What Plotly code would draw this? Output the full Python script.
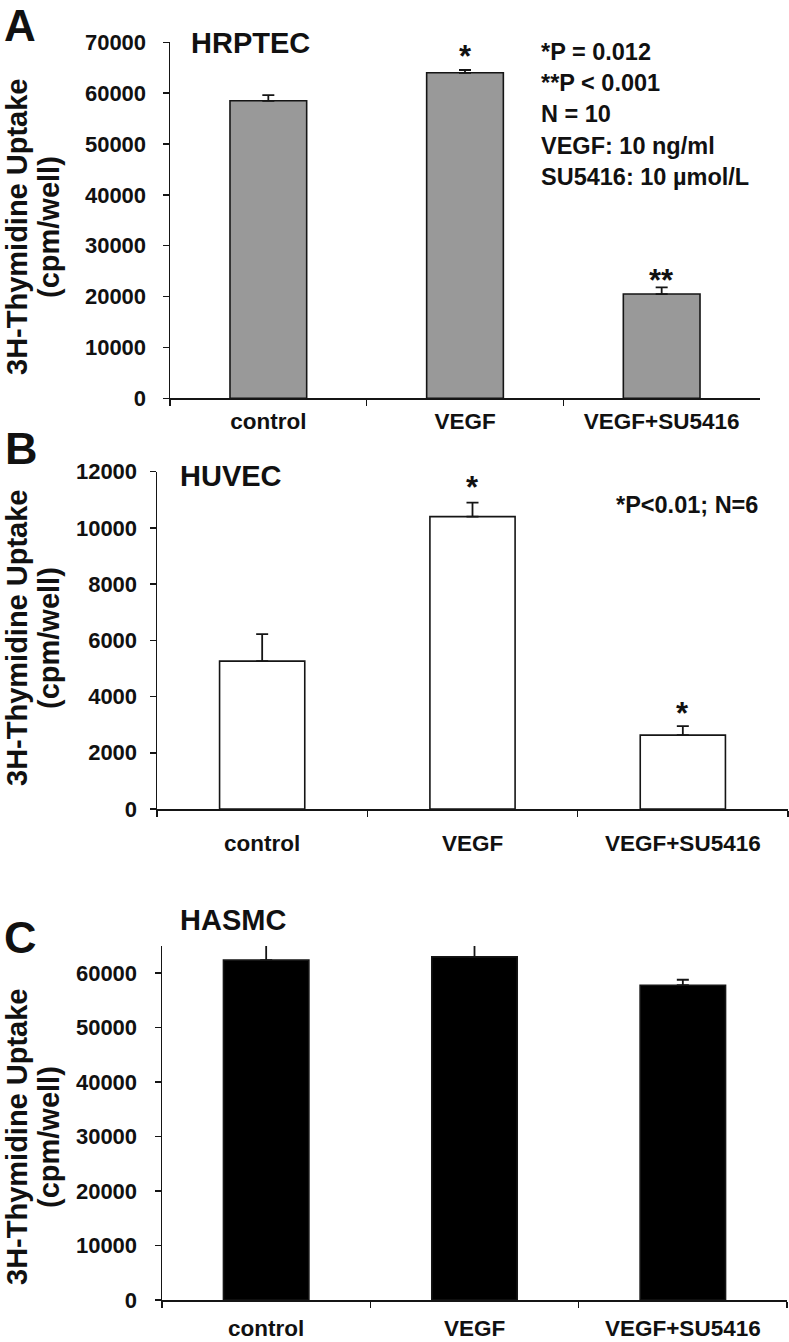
import plotly.graph_objects as go

W, H = 789, 1342
FONT = "Liberation Sans, Arial, sans-serif"

# ---- data ----
categories = ["control", "VEGF", "VEGF+SU5416"]

hrptec_values = [58500, 64000, 20500]
hrptec_errors = [1100, 550, 1300]

huvec_values = [5260, 10400, 2630]
huvec_errors = [960, 500, 320]

hasmc_values = [62400, 63000, 57800]
hasmc_errors = [3200, 2600, 1000]

hrptec_stars = ["", "*", "**"]
huvec_stars = ["", "*", "*"]

hrptec_notes = ["*P = 0.012", "**P < 0.001", "N = 10", "VEGF: 10 ng/ml", "SU5416: 10 \u00b5mol/L"]
huvec_note = "*P<0.01; N=6"

y_title_lines = ["3H-Thymidine Uptake", "(cpm/well)"]

# ---- styling (pixel offsets of the star labels above the error caps) ----
hrptec_star_shift = [0, 14, 7]
huvec_star_shift = [0, 15, 13]


def fx(px):
    return px / W


def fy(py):
    return 1 - py / H


fig = go.Figure()

panels = [
    ("HRPTEC", hrptec_values, hrptec_errors, "#999999", "", (170, 760), (42.3, 398.3), (0, 70000), 10000, 0.39, 12, 2),
    ("HUVEC", huvec_values, huvec_errors, "#ffffff", "2", (157, 788), (471.7, 809), (0, 12000), 2000, 0.405, 8, 13),
    ("HASMC", hasmc_values, hasmc_errors, "#000000", "3", (162, 787), (946, 1300), (0, 65000), 10000, 0.41, 13, 7),
]

for name, vals, errs, fill, sfx, xr, yr, yrange, dtick, bw, ystand, xstand in panels:
    fig.add_trace(go.Bar(
        x=categories, y=vals, width=bw,
        marker=dict(color=fill, line=dict(color="#151515", width=1.6)),
        error_y=dict(type="data", symmetric=False, array=errs, arrayminus=[0] * len(errs),
                     color="#151515", thickness=1.8, width=6),
        xaxis="x" + sfx, yaxis="y" + sfx, name=name, showlegend=False, hoverinfo="skip",
    ))
    xa = dict(domain=[fx(xr[0]), fx(xr[1])], anchor="y" + sfx, type="category",
              automargin=False,
              showline=True, linecolor="#151515", linewidth=1.5,
              ticks="outside", ticklen=6, tickwidth=1.5, tickcolor="#151515",
              tickson="boundaries", showgrid=False, zeroline=False,
              tickfont=dict(family=FONT, size=22.5, color="#111111", weight="bold"),
              ticklabelstandoff=xstand, fixedrange=True)
    ya = dict(domain=[fy(yr[1]), fy(yr[0])], anchor="x" + sfx, range=list(yrange),
              automargin=False,
              dtick=dtick, tick0=0, tickformat="d",
              showline=True, linecolor="#151515", linewidth=1.5,
              ticks="outside", ticklen=6, tickwidth=1.5, tickcolor="#151515",
              showgrid=False, zeroline=False,
              tickfont=dict(family=FONT, size=22, color="#111111", weight="bold"),
              ticklabelstandoff=ystand, fixedrange=True)
    fig.update_layout(**{"xaxis" + sfx: xa, "yaxis" + sfx: ya})

annotations = []

# panel letters
annotations.append(dict(text="<b>A</b>", x=fx(20), y=1, xref="paper", yref="paper",
                        xanchor="center", yanchor="top", showarrow=False, borderpad=0,
                        font=dict(family=FONT, size=44, color="#111111")))
for letter, (cx, cy) in zip(["B", "C"], [(21, 448), (20, 937)]):
    annotations.append(dict(text="<b>%s</b>" % letter, x=fx(cx), y=fy(cy), xref="paper", yref="paper",
                            xanchor="center", yanchor="middle", showarrow=False,
                            font=dict(family=FONT, size=45, color="#111111")))

# panel titles
for title, (lx, cy) in zip(["HRPTEC", "HUVEC", "HASMC"], [(189, 43), (178, 476), (178, 920)]):
    annotations.append(dict(text="<b>%s</b>" % title, x=fx(lx), y=fy(cy), xref="paper", yref="paper",
                            xanchor="left", yanchor="middle", showarrow=False,
                            font=dict(family=FONT, size=29, color="#111111")))

# y-axis titles (two rotated lines)
for cy in [227, 638, 1137]:
    for line, cx in zip(y_title_lines, [17, 49]):
        annotations.append(dict(text="<b>%s</b>" % line, x=fx(cx), y=fy(cy), xref="paper", yref="paper",
                                xanchor="center", yanchor="middle", showarrow=False, textangle=-90,
                                borderpad=0,
                                font=dict(family=FONT, size=29, color="#111111")))

# significance stars
for sfx, vals, errs, stars, shifts in [("", hrptec_values, hrptec_errors, hrptec_stars, hrptec_star_shift),
                                       ("2", huvec_values, huvec_errors, huvec_stars, huvec_star_shift)]:
    for c, v, e, s, sh in zip(categories, vals, errs, stars, shifts):
        if s:
            annotations.append(dict(text="<b>%s</b>" % s, x=c, y=v + e, xref="x" + sfx, yref="y" + sfx,
                                    xanchor="center", yanchor="middle", showarrow=False, yshift=sh,
                                    font=dict(family=FONT, size=31, color="#111111")))

# notes panel A
for i, t in enumerate(hrptec_notes):
    annotations.append(dict(text="<b>%s</b>" % t, x=fx(539), y=fy(52 + 31.2 * i), xref="paper", yref="paper",
                            xanchor="left", yanchor="middle", showarrow=False,
                            font=dict(family=FONT, size=23.5, color="#111111")))

annotations.append(dict(text="<b>%s</b>" % huvec_note, x=fx(614), y=fy(505), xref="paper", yref="paper",
                        xanchor="left", yanchor="middle", showarrow=False,
                        font=dict(family=FONT, size=23.5, color="#111111")))

fig.update_layout(
    width=W, height=H, margin=dict(l=0, r=0, t=0, b=0, autoexpand=False),
    paper_bgcolor="white", plot_bgcolor="white",
    annotations=annotations, barmode="group",
    font=dict(family=FONT, color="#111111"),
)

fig.write_html("out.html", config={"displayModeBar": False, "staticPlot": True},
               post_script="document.body.style.margin='0';document.body.style.overflow='hidden';")
